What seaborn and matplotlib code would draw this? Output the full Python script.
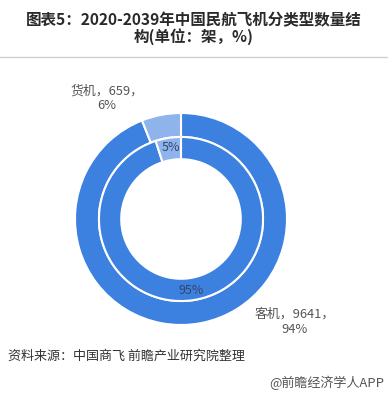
import matplotlib.pyplot as plt
import seaborn as sns
from matplotlib.lines import Line2D

# data
outer_labels = ['客机', '货机']
outer_counts = [9641, 659]
outer_pct = [94, 6]
inner_pct = [95, 5]

sns.set_theme(style="white")
plt.rcParams['font.family'] = ['Noto Sans CJK SC', 'DejaVu Sans']

blue = '#3c80e0'
light = '#8fb4ec'
colors = [blue, light]

fig = plt.figure(figsize=(3.88, 3.94), dpi=100)
fig.patch.set_facecolor('white')

# donut centre ~(181, 219) px, outer radius 106 px
ax = fig.add_axes([75 / 388, 69 / 394, 212 / 388, 212 / 394])
ax.axis('off')

ax.pie(outer_pct, radius=1.0, colors=colors, startangle=90, counterclock=False,
       wedgeprops=dict(width=0.226, edgecolor='white', linewidth=1.5))
ax.pie(inner_pct, radius=0.774, colors=colors, startangle=90, counterclock=False,
       wedgeprops=dict(width=0.21, edgecolor='white', linewidth=1.5))
ax.set_xlim(-1, 1)
ax.set_ylim(-1, 1)

lab_color = '#555555'
ax.text(-0.70, 1.14, f'{outer_labels[1]}，{outer_counts[1]}，\n{outer_pct[1]}%',
        ha='center', va='center', fontsize=9.3, color=lab_color, linespacing=1.2)
ax.text(1.075, -0.97, f'{outer_labels[0]}，{outer_counts[0]}，\n{outer_pct[0]}%',
        ha='center', va='center', fontsize=9.3, color=lab_color, linespacing=1.2)
ax.text(-0.094, 0.67, f'{inner_pct[1]}%', ha='center', va='center',
        fontsize=9, color='#34466a')
ax.text(0.10, -0.67, f'{inner_pct[0]}%', ha='center', va='center',
        fontsize=9, color='#34466a')

# title
fig.text(0.5, 1 - 20 / 394, '图表5：2020-2039年中国民航飞机分类型数量结',
         ha='center', va='center', fontsize=11.2, fontweight='bold', color='#2a2a2a')
fig.text(0.5, 1 - 37 / 394, '构(单位：架，%)',
         ha='center', va='center', fontsize=11.2, fontweight='bold', color='#2a2a2a')
fig.add_artist(Line2D([0, 1], [1 - 57 / 394, 1 - 57 / 394], color='#d0d0d0', lw=1))

# footer
fig.text(8 / 388, 1 - 356 / 394, '资料来源：中国商飞 前瞻产业研究院整理',
         ha='left', va='center', fontsize=9.4, color='#333333')
fig.text(384 / 388, 1 - 383 / 394, '@前瞻经济学人APP',
         ha='right', va='center', fontsize=9.4, color='#555555')

fig.savefig('out.png', dpi=100, facecolor='white')
